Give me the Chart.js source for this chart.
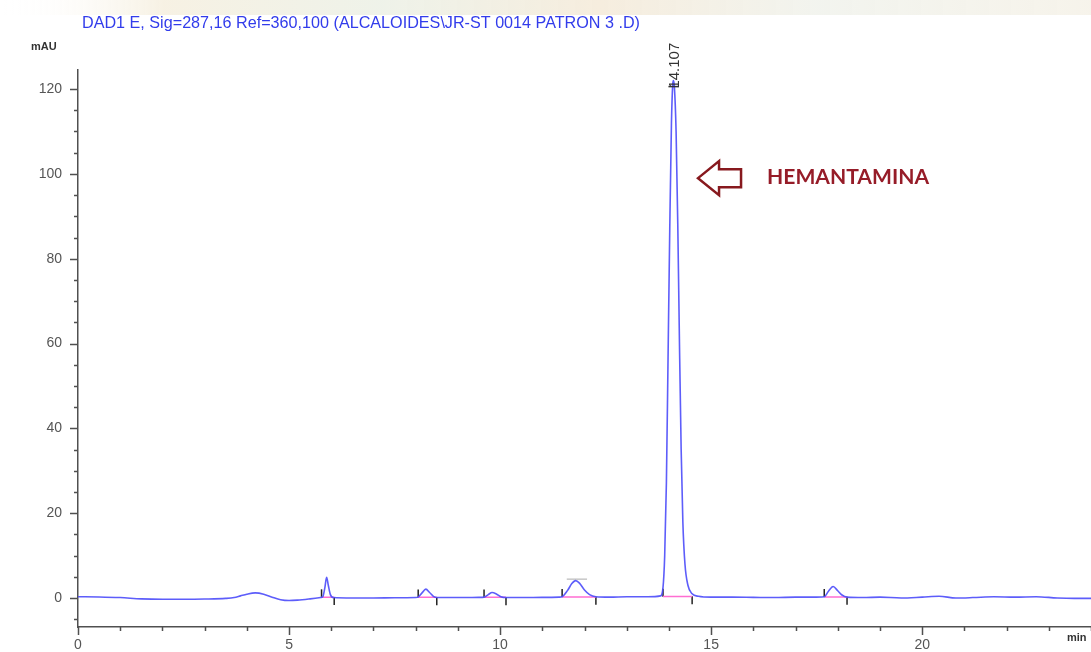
<!DOCTYPE html>
<html><head><meta charset="utf-8">
<script src="https://cdn.jsdelivr.net/npm/chart.js@4"></script>
<style>html,body{margin:0;padding:0;background:#fff;overflow:hidden}#wrap{width:1091px;height:652px;position:relative}</style>
</head><body><div id="wrap"><canvas id="c" width="1091" height="652"></canvas></div>
<script>
const titleText = "DAD1 E, Sig=287,16 Ref=360,100 (ALCALOIDES\\JR-ST 0014 PATRON 3 .D)";
const yUnit = "mAU";
const xUnit = "min";
const annotationText = "HEMANTAMINA";
const apexLabel = "14.107";
const apexTime = 14.107;
const apexHeight = 122;

// retention time (min) and signal (mAU)
const timeMin = [0, 0.5, 1.0, 1.5, 2.0, 2.5, 3.0, 3.5, 3.7, 3.85, 4.0, 4.2, 4.4, 4.6, 4.8, 5.0, 5.2, 5.5, 5.75,
  5.8, 5.85, 5.89, 5.93, 5.98, 6.05, 6.5, 7.0, 7.5, 8.0,
  8.06, 8.15, 8.24, 8.33, 8.42, 8.5, 9.0, 9.5,
  9.62, 9.72, 9.81, 9.92, 10.02, 10.14, 10.5, 11.0, 11.4,
  11.47, 11.6, 11.7, 11.79, 11.88, 12.0, 12.12, 12.27, 12.6, 13.0, 13.5,
  13.8, 13.86, 13.9, 13.94, 13.98, 14.02, 14.06, 14.09, 14.107, 14.13, 14.17, 14.21, 14.25, 14.29, 14.33, 14.38, 14.45, 14.55, 14.7,
  15.0, 15.5, 16.0, 16.5, 17.0, 17.4, 17.68, 17.78, 17.89, 18.0, 18.1, 18.22, 18.6, 19.0, 19.5, 20.0, 20.4, 20.8, 21.2, 21.7, 22.2, 22.7, 23.2, 23.6, 24.0];
const signalMAU = [0.3, 0.25, 0.1, -0.2, -0.3, -0.3, -0.25, -0.1, 0.1, 0.5, 0.9, 1.2, 0.9, 0.2, -0.4, -0.6, -0.5, -0.2, 0.1,
  0.3, 2.5, 4.9, 3.0, 0.8, 0.1, 0.0, 0.0, 0.05, 0.1,
  0.2, 1.2, 2.1, 1.3, 0.4, 0.1, 0.1, 0.15,
  0.2, 0.8, 1.3, 0.9, 0.3, 0.1, 0.1, 0.15, 0.2,
  0.3, 1.8, 3.4, 4.1, 3.5, 1.9, 0.8, 0.3, 0.2, 0.3, 0.3,
  0.5, 2.5, 10, 27, 57, 87, 112, 121, 122, 120.5, 110, 88, 60, 35, 18, 8, 3, 1.0, 0.4,
  0.2, 0.2, 0.15, 0.1, 0.2, 0.2, 0.3, 1.6, 2.7, 1.7, 0.7, 0.2, 0.1, 0.2, 0.0, 0.2, 0.4, 0.0, 0.1, 0.3, 0.2, 0.3, 0.0, -0.1, -0.1];

// integration events
const peakStarts = [5.77, 8.06, 9.62, 11.47, 13.86, 17.68];
const peakEnds   = [6.07, 8.50, 10.14, 12.27, 14.55, 18.22];
const peakBase   = [0.2, 0.15, 0.15, 0.25, 0.35, 0.25];
const heightMarkTime = [11.58, 12.06];
const heightMarkValue = [4.45, 4.45];

const xTickLabels = [0, 5, 10, 15, 20];
const yTickLabels = [0, 20, 40, 60, 80, 100, 120];

const traceData = timeMin.map((t, i) => ({x: t, y: signalMAU[i]}));
const baseData = [];
peakStarts.forEach((s, i) => {
  baseData.push({x: s, y: peakBase[i]}, {x: peakEnds[i], y: peakBase[i]}, {x: peakEnds[i], y: null});
});
const startMarks = peakStarts.map((s, i) => ({x: s, y: peakBase[i] + 0.9}));
const endMarks = peakEnds.map((e, i) => ({x: e, y: peakBase[i] - 0.9}));
const heightMark = heightMarkTime.map((t, i) => ({x: t, y: heightMarkValue[i]}));

const FONT = '"Liberation Sans", Arial, sans-serif';
const AXIS = '#505050';

const decor = {
  id: 'decor',
  beforeDraw(chart) {
    const ctx = chart.ctx;
    ctx.save();
    const g = ctx.createLinearGradient(0, 0, 1091, 0);
    g.addColorStop(0, 'rgba(255,255,255,0)');
    g.addColorStop(0.15, 'rgba(240,230,205,0.55)');
    g.addColorStop(0.35, 'rgba(225,232,215,0.55)');
    g.addColorStop(0.55, 'rgba(240,225,200,0.6)');
    g.addColorStop(0.75, 'rgba(232,235,225,0.55)');
    g.addColorStop(1, 'rgba(238,232,215,0.5)');
    ctx.fillStyle = g;
    ctx.fillRect(0, 0, 1091, 15);
    ctx.restore();
  },
  afterDraw(chart) {
    const ctx = chart.ctx;
    const xs = chart.scales.x, ys = chart.scales.y;
    const area = chart.chartArea;
    ctx.save();
    ctx.strokeStyle = AXIS;
    ctx.lineWidth = 1.5;
    ctx.beginPath();
    ys.ticks.forEach(t => {
      const v = t.value;
      if (Math.abs(v / 5 - Math.round(v / 5)) > 1e-6) return;
      const p = Math.round(ys.getPixelForValue(v)) + 0.5;
      const len = (v % 20 === 0) ? 8 : 4;
      ctx.moveTo(area.left - len, p); ctx.lineTo(area.left, p);
    });
    xs.ticks.forEach(t => {
      const v = t.value;
      const p = Math.round(xs.getPixelForValue(v)) + 0.5;
      const len = (v % 5 === 0) ? 8 : 4;
      ctx.moveTo(p, area.bottom); ctx.lineTo(p, area.bottom + len);
    });
    ctx.stroke();

    // title
    ctx.fillStyle = 'rgb(50,60,235)';
    ctx.font = '16.5px ' + FONT;
    ctx.textBaseline = 'middle';
    ctx.textAlign = 'left';
    ctx.fillText(titleText, 82, 23, 558);

    // units
    ctx.fillStyle = '#333';
    ctx.font = 'bold 11px ' + FONT;
    ctx.fillText(yUnit, 31, 47);
    ctx.fillText(xUnit, 1067, 638);

    // apex label
    const ax = xs.getPixelForValue(apexTime);
    const ay = ys.getPixelForValue(apexHeight);
    ctx.save();
    ctx.translate(ax + 1, ay + 8);
    ctx.rotate(-Math.PI / 2);
    ctx.fillStyle = '#333';
    ctx.font = '15px ' + FONT;
    ctx.textAlign = 'left';
    ctx.textBaseline = 'middle';
    ctx.fillText(apexLabel, 0, 0);
    ctx.restore();
    ctx.strokeStyle = '#333';
    ctx.lineWidth = 1.5;
    ctx.beginPath();
    ctx.moveTo(ax - 5, ay + 6); ctx.lineTo(ax + 5, ay + 6);
    ctx.stroke();

    // arrow annotation
    const tx = xs.getPixelForValue(14.69), ty = ys.getPixelForValue(99);
    ctx.strokeStyle = 'rgb(135,25,30)';
    ctx.lineWidth = 2.5;
    ctx.lineJoin = 'miter';
    ctx.beginPath();
    ctx.moveTo(tx, ty);
    ctx.lineTo(tx + 21, ty - 17);
    ctx.lineTo(tx + 21, ty - 9);
    ctx.lineTo(tx + 43, ty - 9);
    ctx.lineTo(tx + 43, ty + 9);
    ctx.lineTo(tx + 21, ty + 9);
    ctx.lineTo(tx + 21, ty + 17);
    ctx.closePath();
    ctx.stroke();

    ctx.fillStyle = 'rgb(150,28,40)';
    ctx.font = 'bold 21.5px Lato, "Open Sans", sans-serif';
    ctx.textAlign = 'left';
    ctx.textBaseline = 'middle';
    ctx.fillText(annotationText, tx + 69, ty - 1, 162);
    ctx.restore();
  }
};

new Chart(document.getElementById('c'), {
  type: 'line',
  data: {
    datasets: [
      {data: traceData, borderColor: 'rgba(75,75,250,0.9)', borderWidth: 1.6, pointRadius: 0, cubicInterpolationMode: 'monotone', fill: false},
      {data: baseData, borderColor: 'rgb(255,110,210)', borderWidth: 1.5, pointRadius: 0, spanGaps: false, fill: false},
      {data: startMarks, showLine: false, pointStyle: 'line', rotation: 90, pointRadius: 4, borderColor: '#222', borderWidth: 1.5},
      {data: endMarks, showLine: false, pointStyle: 'line', rotation: 90, pointRadius: 4, borderColor: '#222', borderWidth: 1.5},
      {data: heightMark, borderColor: 'rgba(150,150,150,0.8)', borderWidth: 1, pointRadius: 0, fill: false}
    ]
  },
  options: {
    responsive: false,
    animation: false,
    devicePixelRatio: 1,
    layout: {autoPadding: false, padding: {left: 0, top: 70, right: 0, bottom: 0}},
    plugins: {legend: {display: false}, title: {display: false}, tooltip: {enabled: false}},
    scales: {
      x: {
        type: 'linear', min: 0, max: 24,
        afterFit(s) { s.height = 25; s.paddingLeft = 0; s.paddingRight = 0; },
        grid: {display: false},
        border: {display: true, color: AXIS, width: 1.5},
        ticks: {stepSize: 1, autoSkip: false, maxRotation: 0, padding: 2, color: '#555',
          font: {family: FONT, size: 14},
          callback: v => xTickLabels.includes(v) ? String(v) : ''}
      },
      y: {
        type: 'linear', min: -6.84, max: 124.5,
        afterFit(s) { s.width = 78; s.paddingTop = 0; s.paddingBottom = 0; },
        grid: {display: false},
        border: {display: true, color: AXIS, width: 1.5},
        ticks: {stepSize: 5, includeBounds: false, autoSkip: false, padding: 8, color: '#555',
          font: {family: FONT, size: 14},
          callback: v => yTickLabels.includes(v) ? String(v) : ''}
      }
    }
  },
  plugins: [decor]
});
</script></body></html>
